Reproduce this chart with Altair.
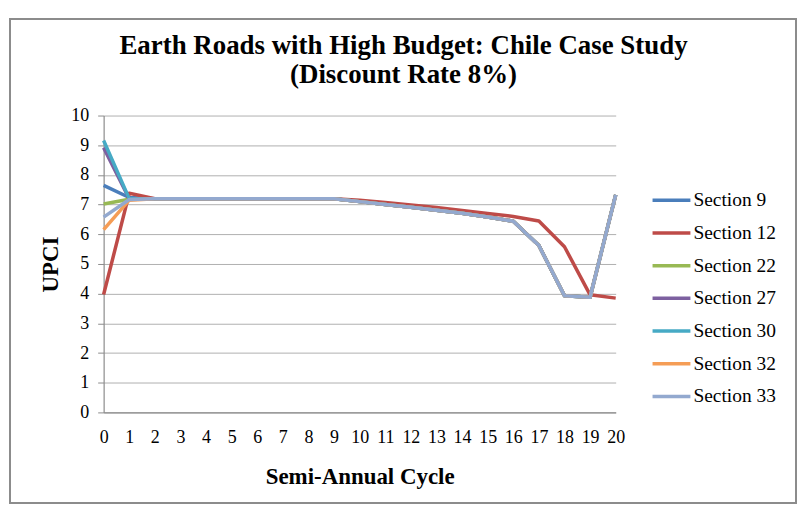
import altair as alt
import pandas as pd

cycles = list(range(21))
sections = ["Section 9", "Section 12", "Section 22", "Section 27",
            "Section 30", "Section 32", "Section 33"]
colors = ["#4A7EBB", "#BE4B48", "#98B954", "#7D60A0", "#46AAC5", "#F59D56", "#93A9CF"]

s9  = [7.65, 7.24, 7.2, 7.2, 7.2, 7.2, 7.2, 7.2, 7.2, 7.2, 7.1, 7.0, 6.91, 6.81, 6.71, 6.58, 6.44, 5.62, 3.93, 3.88, 7.33]
s12 = [3.97, 7.38, 7.2, 7.2, 7.2, 7.2, 7.2, 7.2, 7.2, 7.2, 7.15, 7.07, 6.99, 6.9, 6.8, 6.7, 6.6, 6.45, 5.58, 3.96, 3.85]
s22 = [7.02, 7.18, 7.2, 7.2, 7.2, 7.2, 7.2, 7.2, 7.2, 7.2, 7.1, 7.0, 6.91, 6.81, 6.71, 6.58, 6.44, 5.62, 3.93, 3.88, 7.33]
s27 = [8.92, 7.2, 7.2, 7.2, 7.2, 7.2, 7.2, 7.2, 7.2, 7.2, 7.1, 7.0, 6.91, 6.81, 6.71, 6.58, 6.44, 5.62, 3.93, 3.88, 7.33]
s30 = [9.16, 7.2, 7.2, 7.2, 7.2, 7.2, 7.2, 7.2, 7.2, 7.2, 7.1, 7.0, 6.91, 6.81, 6.71, 6.58, 6.44, 5.62, 3.93, 3.88, 7.33]
s32 = [6.16, 7.15, 7.2, 7.2, 7.2, 7.2, 7.2, 7.2, 7.2, 7.2, 7.1, 7.0, 6.91, 6.81, 6.71, 6.58, 6.44, 5.62, 3.93, 3.88, 7.33]
s33 = [6.58, 7.17, 7.2, 7.2, 7.2, 7.2, 7.2, 7.2, 7.2, 7.2, 7.1, 7.0, 6.91, 6.81, 6.71, 6.58, 6.44, 5.62, 3.93, 3.88, 7.33]

series = [s9, s12, s22, s27, s30, s32, s33]
x_ticks = list(range(21))
y_ticks = list(range(11))

rows = []
for name, vals in zip(sections, series):
    for c, v in zip(cycles, vals):
        rows.append({"Section": name, "Cycle": c, "UPCI": v})
df = pd.DataFrame(rows)
leg_df = pd.DataFrame({"Section": sections})

FONT = "Liberation Serif"

color = alt.Color("Section:N", scale=alt.Scale(domain=sections, range=colors), legend=None)

lines = alt.Chart(df).mark_line(strokeWidth=3.5, strokeJoin="round").encode(
    x=alt.X("Cycle:Q", scale=alt.Scale(domain=[0, 20], nice=False),
            axis=alt.Axis(values=x_ticks, format="d", title="Semi-Annual Cycle", grid=False,
                          ticks=False, labelPadding=16, titlePadding=19,
                          labelFontSize=18, titleFontSize=23, labelFlush=False)),
    y=alt.Y("UPCI:Q", scale=alt.Scale(domain=[0, 10], nice=False),
            axis=alt.Axis(values=y_ticks, format="d", title="UPCI", grid=True,
                          ticks=True, tickSize=6, labelPadding=9, titlePadding=8,
                          labelFontSize=18, titleFontSize=23)),
    color=color,
)

leg_y = alt.Y("Section:N", scale=alt.Scale(type="point", domain=sections, range=[85, 282], padding=0),
              axis=None)

leg_rule = alt.Chart(leg_df).mark_rule(strokeWidth=3.5).encode(
    x=alt.value(551), x2=alt.value(589), y=leg_y, color=color,
)
leg_text = alt.Chart(leg_df).mark_text(align="left", baseline="middle", font=FONT,
                                       fontSize=19.5, color="black").encode(
    x=alt.value(592), y=leg_y, text="Section:N",
)

border = alt.Chart(pd.DataFrame({"b": [0]})).mark_rect(
    fill="transparent", stroke="#8C8C8C", strokeWidth=2
).encode(x=alt.value(-94), x2=alt.value(695), y=alt.value(-97), y2=alt.value(389))

chart = alt.layer(border, lines, leg_rule, leg_text).resolve_scale(y="independent").properties(
    width=514, height=298,
    background="white",
    autosize=alt.AutoSizeParams(type="none"),
    padding={"left": 96, "top": 107, "right": 182, "bottom": 92},
    title=alt.TitleParams(
        text=["Earth Roads with High Budget: Chile Case Study", "(Discount Rate 8%)"],
        font=FONT, fontSize=27, fontWeight="bold", color="black",
        anchor="middle", baseline="alphabetic", offset=0, dx=44, dy=92, lineHeight=29,
    ),
).configure_view(strokeWidth=0).configure_axis(
    labelFont=FONT, titleFont=FONT, labelColor="black", titleColor="black",
    titleFontWeight="bold", domainColor="#8C8C8C", tickColor="#8C8C8C",
    gridColor="#B0B0B0", domainWidth=1.2,
)

chart.save("out.html", embed_options={"renderer": "svg", "actions": False})
